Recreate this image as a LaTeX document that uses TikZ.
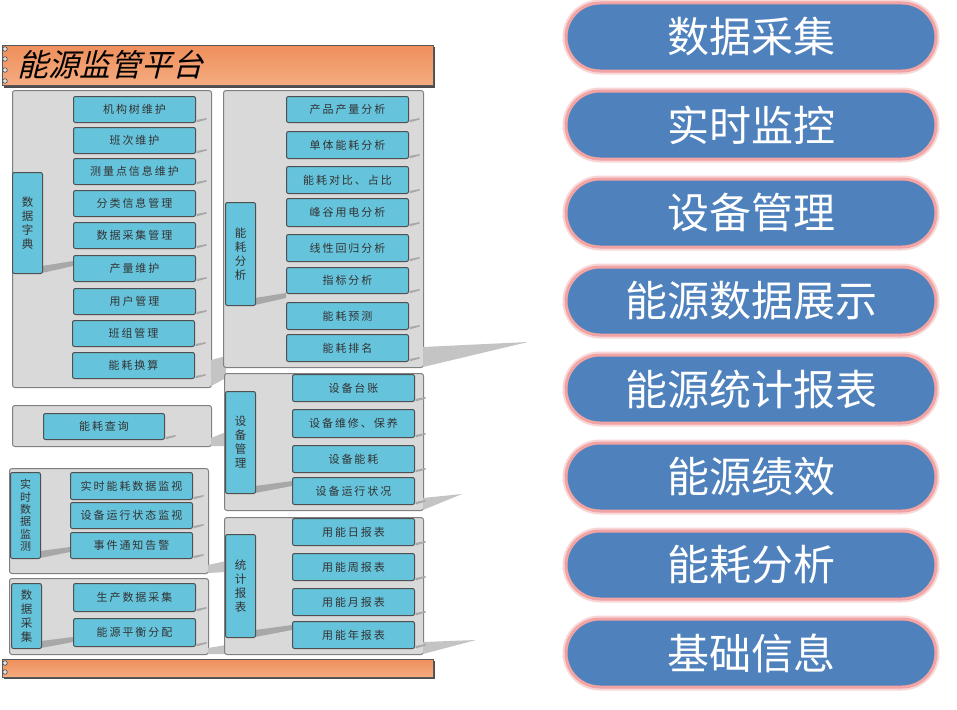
\documentclass[tikz,border=0pt]{standalone}
\usepackage{fontspec}
\setmainfont{Noto Sans CJK SC}
\newfontfamily\cjksp[LetterSpace=18]{Noto Sans CJK SC}
\newfontfamily\cjkit[FakeSlant=0.25]{Noto Sans CJK SC}
\definecolor{panelfill}{HTML}{D9D9D9}
\definecolor{panelline}{HTML}{808080}
\definecolor{boxline}{HTML}{505050}
\definecolor{tealc}{HTML}{65C3DB}
\definecolor{txt}{HTML}{333333}
\definecolor{shdw}{HTML}{C4C4C4}
\definecolor{shdin}{HTML}{A8A8A8}
\definecolor{btnblue}{HTML}{4F81BD}
\definecolor{btnpink}{HTML}{F2A3A3}
\definecolor{orangetop}{HTML}{EF8F5C}
\definecolor{orangebot}{HTML}{F5AC80}
\begin{document}
\begin{tikzpicture}[x=1pt,y=-1pt,
  panel/.style={draw=panelline, line width=1pt, fill=panelfill, rounded corners=2.5pt, anchor=north west, inner sep=0pt},
  tbox/.style={draw=boxline, line width=1pt, fill=tealc, rounded corners=2pt, anchor=north west, minimum width=122pt, minimum height=26pt, inner sep=0pt, font=\cjksp\fontsize{11}{13}\selectfont, text=txt},
  vlabel/.style={draw=boxline, line width=1pt, fill=tealc, rounded corners=2pt, anchor=north west, minimum width=30pt, inner sep=0pt, align=center, font=\fontsize{11.5}{14}\selectfont, text=txt},
  btn/.style={fill=btnblue, rounded corners=34pt, minimum width=370pt, minimum height=68pt, inner sep=0pt, font=\fontsize{42}{46}\selectfont, text=white, draw=btnpink, line width=3pt, preaction={draw=btnpink!45, line width=7pt}},
  bar/.style={draw=gray!70!black, line width=1pt, top color=orangetop, bottom color=orangebot, anchor=north west, inner sep=0pt, minimum width=431pt},
  ring/.style={draw=gray!60!black, fill=gray!25, line width=0.6pt},
  wedge/.style={fill=shdw},
  lwedge/.style={fill=shdin},
  sliver/.style={fill=shdin}
]
\useasboundingbox (0,0) rectangle (957,709);
\fill[white] (0,0) rectangle (957,709);

% ===== header bar =====
\fill[gray!60!black] (4,47) rectangle (435,88);
\node[bar, minimum height=40pt] (hdr) at (2,45) {};
\node[anchor=west, font=\cjkit\fontsize{31}{33}\selectfont, text=black, inner sep=0pt] (title) at (17,65) {能源监管平台};
\foreach \yy in {49,59,70,81} \draw[ring] (5,\yy) circle (2.3);

% ===== left column =====
% 数据字典 panel
\node[panel, minimum width=199pt, minimum height=297pt] (pDict) at (12,90) {};
\fill[wedge] (211,360) -- (226,356) -- (226,378) -- (211,386) -- cycle;
\fill[lwedge] (42,266) -- (73,261) -- (73,266) -- (42,273) -- cycle;
\node[vlabel, minimum height=101pt] (lDict) at (12,172) {数\\据\\字\\典};
\node[tbox] (d1) at (73,96) {机构树维护};
\node[tbox] (d2) at (73,127) {班次维护};
\node[tbox] (d3) at (73,158) {测量点信息维护};
\node[tbox] (d4) at (73,190) {分类信息管理};
\node[tbox] (d5) at (73,222) {数据采集管理};
\node[tbox] (d6) at (73,255) {产量维护};
\node[tbox] (d7) at (73,288) {用户管理};
\node[tbox] (d8) at (72,320) {班组管理};
\node[tbox] (d9) at (72,352) {能耗换算};

% 能耗查询 panel
\node[panel, minimum width=199pt, minimum height=41pt] (pQuery) at (12,405) {};
\fill[wedge] (211,438) -- (226,432) -- (226,446) -- (211,446) -- cycle;
\node[tbox, minimum width=121pt] (q1) at (43,413) {能耗查询};

% 实时数据监测 panel
\node[panel, minimum width=199pt, minimum height=105pt] (pRT) at (9,468) {};
\fill[wedge] (208,565) -- (226,561) -- (226,572) -- (208,573) -- cycle;
\fill[lwedge] (40,551) -- (70,547) -- (70,552) -- (40,558) -- cycle;
\node[vlabel, minimum height=86pt, font=\fontsize{11}{12.4}\selectfont] (lRT) at (10,472) {实\\时\\数\\据\\监\\测};
\node[tbox, minimum height=27pt] (r1) at (70,472) {实时能耗数据监视};
\node[tbox] (r2) at (70,502) {设备运行状态监视};
\node[tbox] (r3) at (70,532) {事件通知告警};

% 数据采集 panel
\node[panel, minimum width=199pt, minimum height=76pt] (pCol) at (9,578) {};
\fill[wedge] (208,648) -- (226,645) -- (226,654) -- (208,654) -- cycle;
\fill[lwedge] (41,641) -- (73,637) -- (73,642) -- (41,648) -- cycle;
\node[vlabel, minimum height=65pt] (lCol) at (11,583) {数\\据\\采\\集};
\node[tbox, minimum height=28pt] (c1) at (73,583) {生产数据采集};
\node[tbox, minimum height=28pt] (c2) at (73,618) {能源平衡分配};

% ===== middle column =====
% 能耗分析 panel
\node[panel, minimum width=200pt, minimum height=277pt] (pAna) at (223,90) {};
\fill[wedge] (423,347) -- (528,342) -- (423,367) -- cycle;
\fill[lwedge] (255,298) -- (286,293) -- (286,298) -- (255,305) -- cycle;
\node[vlabel, minimum height=103pt] (lAna) at (225,202) {能\\耗\\分\\析};
\node[tbox] (e1) at (286,96) {产品产量分析};
\node[tbox, minimum height=27pt] (e2) at (286,131) {单体能耗分析};
\node[tbox, minimum height=27pt] (e3) at (286,166) {能耗对比、占比};
\node[tbox, minimum height=28pt] (e4) at (286,198) {峰谷用电分析};
\node[tbox, minimum height=27pt] (e5) at (286,234) {线性回归分析};
\node[tbox] (e6) at (286,267) {指标分析};
\node[tbox, minimum height=27pt] (e7) at (286,302) {能耗预测};
\node[tbox, minimum height=27pt] (e8) at (286,334) {能耗排名};

% 设备管理 panel
\node[panel, minimum width=199pt, minimum height=137pt] (pEq) at (224,373) {};
\fill[wedge] (423,498) -- (462,494) -- (423,510) -- cycle;
\fill[lwedge] (255,486) -- (292,481) -- (292,486) -- (255,493) -- cycle;
\node[vlabel, minimum height=102pt] (lEq) at (225,391) {设\\备\\管\\理};
\node[tbox, minimum height=27pt] (m1) at (292,374) {设备台账};
\node[tbox, minimum height=28pt] (m2) at (292,409) {设备维修、保养};
\node[tbox, minimum height=27pt] (m3) at (292,445) {设备能耗};
\node[tbox, minimum height=27pt] (m4) at (292,477) {设备运行状况};

% 统计报表 panel
\node[panel, minimum width=199pt, minimum height=137pt] (pRep) at (224,517) {};
\fill[wedge] (423,642) -- (476,640) -- (423,654) -- cycle;
\fill[lwedge] (255,630) -- (292,625) -- (292,630) -- (255,637) -- cycle;
\node[vlabel, minimum height=103pt] (lRep) at (225,534) {统\\计\\报\\表};
\node[tbox, minimum height=27pt] (s1) at (292,518) {用能日报表};
\node[tbox, minimum height=27pt] (s2) at (292,553) {用能周报表};
\node[tbox, minimum height=27pt] (s3) at (292,588) {用能月报表};
\node[tbox, minimum height=27pt] (s4) at (292,621) {用能年报表};

% small shadow slivers to the right of each box
\foreach \n in {d1,d2,d3,d4,d5,d6,d7,d8,d9,q1,r1,r2,r3,c1,c2,e1,e2,e3,e4,e5,e6,e7,e8,m1,m2,m3,m4,s1,s2,s3,s4}
  \fill[sliver] ([xshift=0.5pt,yshift=3pt]\n.south east) -- ++(10,-2) -- ++(0,1.6) -- ([xshift=0.5pt,yshift=0.6pt]\n.south east) -- cycle;

% ===== bottom bar =====
\fill[gray!60!black] (4,661) rectangle (435,679);
\node[bar, minimum height=18pt] (foot) at (2,659) {};
\foreach \yy in {663,672} \draw[ring] (5,\yy) circle (2.3);

% ===== right buttons =====
\node[btn] (b1) at (751,37) {数据采集};
\node[btn] (b2) at (751,125) {实时监控};
\node[btn] (b3) at (751,213) {设备管理};
\node[btn] (b4) at (751,301) {能源数据展示};
\node[btn] (b5) at (751,389) {能源统计报表};
\node[btn] (b6) at (751,477) {能源绩效};
\node[btn] (b7) at (751,565) {能耗分析};
\node[btn] (b8) at (751,653) {基础信息};
\end{tikzpicture}
\end{document}
